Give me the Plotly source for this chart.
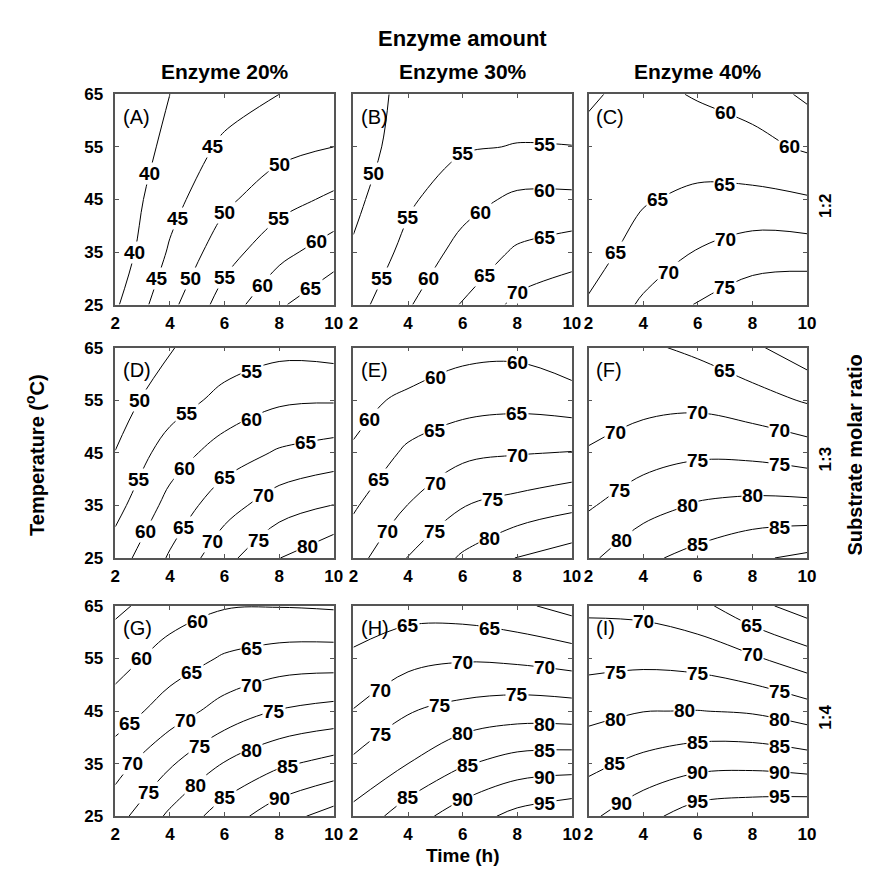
import plotly.graph_objects as go

# ---------------- data ----------------
times = [2, 4, 6, 8, 10]          # Time (h)
temps = [25, 35, 45, 55, 65]      # Temperature (°C)
time_ticks = [2, 4, 6, 8, 10]
temp_ticks = [25, 35, 45, 55, 65]
contour_levels = [35, 40, 45, 50, 55, 60, 65, 70, 75, 80, 85, 90, 95]

# rows = temperatures 25..65, columns = times 2..10
panel_A = [
    [39.3, 48.6, 57.3, 64.3, 69.0],
    [36.9, 45.6, 52.9, 58.5, 62.6],
    [36.5, 43.3, 49.0, 53.0, 56.0],
    [36.4, 41.2, 46.0, 48.5, 50.0],
    [37.0, 40.0, 42.6, 45.0, 46.5],
]
panel_B = [
    [53.0, 59.5, 65.4, 71.3, 74.0],
    [50.6, 56.5, 61.7, 65.7, 67.6],
    [48.8, 54.2, 58.2, 61.0, 61.1],
    [48.5, 51.4, 54.5, 55.2, 55.1],
    [48.5, 50.8, 52.0, 52.6, 51.9],
]
panel_C = [
    [65.5, 70.8, 75.4, 78.1, 79.5],
    [63.0, 67.0, 70.3, 72.5, 72.4],
    [62.3, 64.6, 66.1, 66.3, 65.5],
    [61.0, 62.5, 62.6, 61.5, 59.3],
    [59.5, 61.3, 59.6, 58.0, 54.0],
]
panel_D = [
    [57.5, 65.6, 73.4, 79.9, 84.0],
    [53.3, 61.7, 68.0, 72.7, 75.1],
    [50.1, 57.5, 62.3, 65.6, 67.2],
    [48.0, 52.5, 56.6, 59.2, 59.6],
    [46.0, 49.8, 52.0, 53.5, 53.0],
]
panel_E = [
    [68.0, 75.2, 80.7, 85.2, 87.5],
    [64.4, 70.1, 74.8, 76.7, 78.8],
    [60.5, 66.0, 68.8, 69.7, 70.2],
    [58.5, 61.0, 62.8, 63.4, 62.4],
    [55.5, 56.5, 58.5, 58.7, 56.0],
]
panel_F = [
    [79.0, 84.0, 86.6, 89.3, 91.0],
    [74.5, 77.9, 80.5, 81.4, 81.3],
    [70.5, 72.9, 74.1, 73.8, 72.4],
    [66.8, 68.3, 68.7, 67.0, 64.5],
    [65.2, 65.8, 64.0, 61.0, 56.7],
]
panel_G = [
    [73.0, 81.0, 87.5, 93.0, 97.0],
    [68.0, 74.4, 80.3, 84.2, 86.6],
    [62.2, 67.5, 72.0, 75.3, 76.7],
    [57.9, 62.2, 65.6, 67.2, 67.5],
    [54.0, 57.5, 59.6, 59.8, 59.4],
]
panel_H = [
    [81.5, 87.7, 92.5, 96.5, 98.7],
    [76.0, 80.0, 84.5, 87.1, 87.7],
    [70.2, 74.7, 76.6, 77.7, 77.4],
    [65.9, 68.4, 69.5, 69.0, 67.7],
    [61.7, 63.0, 62.6, 61.0, 58.2],
]
panel_I = [
    [89.0, 93.5, 97.5, 98.6, 99.3],
    [83.7, 86.4, 88.4, 88.7, 87.7],
    [78.5, 79.9, 80.1, 79.5, 77.3],
    [73.4, 73.7, 73.0, 70.7, 67.2],
    [69.0, 68.5, 66.5, 61.5, 57.8],
]

panel_letters = ["(A)", "(B)", "(C)", "(D)", "(E)", "(F)", "(G)", "(H)", "(I)"]
panel_data = [panel_A, panel_B, panel_C, panel_D, panel_E, panel_F, panel_G, panel_H, panel_I]
enzyme_titles = ["Enzyme 20%", "Enzyme 30%", "Enzyme 40%"]
ratio_labels = ["1:2", "1:3", "1:4"]

# ---------------- layout geometry (pixels) ----------------
W, H = 870, 874
col_px = [(104, 326), (346, 568), (585, 807)]
row_px = [(79, 294), (338, 553), (602, 817)]
FONT = "Liberation Sans, Arial, Helvetica, sans-serif"
LABEL_SIZE = 19


def px_x(x):
    return x / W


def px_y(y):
    return 1 - y / H


def cross(a, b, lev):
    if (a - lev) * (b - lev) < 0:
        return (lev - a) / (b - a)
    return None


def label_candidates(z, lev):
    """Points lying on the contour of level `lev` (grid-edge crossings and
    midpoints of the straight pieces inside each grid cell)."""
    pts = []
    nT, nt = len(temps), len(times)
    for i in range(nT - 1):
        for j in range(nt - 1):
            edge_pts = []
            f = cross(z[i][j], z[i][j + 1], lev)
            if f is not None:
                edge_pts.append((times[j] + f * (times[j + 1] - times[j]), temps[i], i > 0))
            f = cross(z[i + 1][j], z[i + 1][j + 1], lev)
            if f is not None:
                edge_pts.append((times[j] + f * (times[j + 1] - times[j]), temps[i + 1], i + 1 < nT - 1))
            f = cross(z[i][j], z[i + 1][j], lev)
            if f is not None:
                edge_pts.append((times[j], temps[i] + f * (temps[i + 1] - temps[i]), j > 0))
            f = cross(z[i][j + 1], z[i + 1][j + 1], lev)
            if f is not None:
                edge_pts.append((times[j + 1], temps[i] + f * (temps[i + 1] - temps[i]), j + 1 < nt - 1))
            for p in edge_pts:
                if p[2]:
                    pts.append((p[0], p[1]))
            if len(edge_pts) == 2:
                pts.append(((edge_pts[0][0] + edge_pts[1][0]) / 2,
                            (edge_pts[0][1] + edge_pts[1][1]) / 2))
    return pts


fig = go.Figure()
layout = dict(
    width=W, height=H,
    margin=dict(l=0, r=0, t=0, b=0),
    paper_bgcolor="white", plot_bgcolor="white",
    showlegend=False,
    font=dict(family=FONT, color="black"),
)
annotations = []

for i, z in enumerate(panel_data):
    r, c = divmod(i, 3)
    n = i + 1
    sfx = "" if n == 1 else str(n)
    x0, x1 = col_px[c]
    y0, y1 = row_px[r]
    fig.add_trace(go.Contour(
        x=times, y=temps, z=z,
        xaxis="x" + sfx, yaxis="y" + sfx,
        autocontour=False,
        contours=dict(coloring="none", start=30, end=100, size=5, showlabels=False),
        line=dict(color="black", width=1, smoothing=1.0),
        showscale=False, hoverinfo="skip",
    ))

    def to_px(t, T):
        return (x0 + (t - times[0]) / (times[-1] - times[0]) * (x1 - x0),
                y1 - (T - temps[0]) / (temps[-1] - temps[0]) * (y1 - y0))

    placed = []
    for lev in contour_levels:
        cands = sorted(label_candidates(z, lev))
        mine = []
        for (t, T) in cands:
            px, py = to_px(t, T)
            if px < x0 + 14 or px > x1 - 14 or py < y0 + 12 or py > y1 - 12:
                continue
            if px < x0 + 54 and py < y0 + 40:
                continue
            if any(abs(px - qx) < 28 and abs(py - qy) < 24 for (qx, qy) in placed):
                continue
            if any(((px - qx) ** 2 + (py - qy) ** 2) ** 0.5 < 64 for (qx, qy) in mine):
                continue
            mine.append((px, py))
            placed.append((px, py))
            annotations.append(dict(text=str(lev), x=t, y=T, xref="x" + sfx, yref="y" + sfx,
                                    xanchor="center", yanchor="middle", showarrow=False,
                                    bgcolor="white", borderpad=0,
                                    font=dict(family=FONT, size=LABEL_SIZE, color="black",
                                              weight="bold")))

    axis_common = dict(showgrid=False, zeroline=False, showline=True,
                       linecolor="#555555", linewidth=1.5, mirror="ticks",
                       ticks="inside", ticklen=4, tickcolor="#555555",
                       tickfont=dict(family=FONT, size=17, color="black", weight="bold"))
    layout["xaxis" + sfx] = dict(axis_common, domain=[px_x(x0), px_x(x1)],
                                 anchor="y" + sfx, range=[2, 10],
                                 tickvals=time_ticks, ticklabelstandoff=2)
    layout["yaxis" + sfx] = dict(axis_common, domain=[px_y(y1), px_y(y0)],
                                 anchor="x" + sfx, range=[25, 65],
                                 tickvals=temp_ticks, showticklabels=(c == 0),
                                 ticklabelstandoff=7)
    annotations.append(dict(text=panel_letters[i], x=px_x(x0 + 6), y=px_y(y0 + 23),
                            xref="paper", yref="paper", xanchor="left", yanchor="middle",
                            showarrow=False, font=dict(family=FONT, size=20, color="black")))

# column titles
for c, t in enumerate(enzyme_titles):
    x0, x1 = col_px[c]
    annotations.append(dict(text=t, x=px_x((x0 + x1) / 2), y=px_y(56),
                            xref="paper", yref="paper", xanchor="center", yanchor="middle",
                            showarrow=False,
                            font=dict(family=FONT, size=21, color="black", weight="bold")))
# ratio labels
for r, t in enumerate(ratio_labels):
    y0, y1 = row_px[r]
    annotations.append(dict(text=t, x=px_x(826), y=px_y((y0 + y1) / 2 + 6),
                            xref="paper", yref="paper", xanchor="center", yanchor="middle",
                            textangle=-90, showarrow=False,
                            font=dict(family=FONT, size=17, color="black", weight="bold")))

annotations += [
    dict(text="Enzyme amount", x=px_x(457), y=px_y(22), xref="paper", yref="paper",
         xanchor="center", yanchor="middle", showarrow=False,
         font=dict(family=FONT, size=22, color="black", weight="bold")),
    dict(text="Temperature (<sup>o</sup>C)", x=px_x(22), y=px_y(448), xref="paper", yref="paper",
         xanchor="center", yanchor="middle", textangle=-90, showarrow=False,
         font=dict(family=FONT, size=20, color="black", weight="bold")),
    dict(text="Substrate molar ratio", x=px_x(856), y=px_y(448), xref="paper", yref="paper",
         xanchor="center", yanchor="middle", textangle=-90, showarrow=False,
         font=dict(family=FONT, size=20, color="black", weight="bold")),
    dict(text="Time (h)", x=px_x(457), y=px_y(857), xref="paper", yref="paper",
         xanchor="center", yanchor="middle", showarrow=False,
         font=dict(family=FONT, size=19, color="black", weight="bold")),
]
layout["annotations"] = annotations
fig.update_layout(**layout)
fig.write_html("out.html")
